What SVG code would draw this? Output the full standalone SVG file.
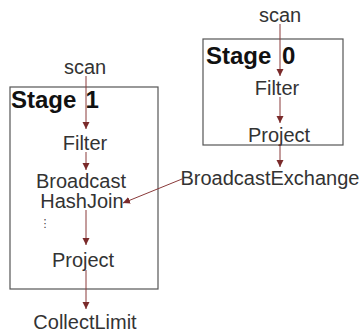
<svg xmlns="http://www.w3.org/2000/svg" width="362" height="332" viewBox="0 0 362 332">
  <style>
    .lbl { font-family: "Liberation Sans", Arial, sans-serif; font-size: 20px; fill: #333; text-anchor: middle; }
    .stage { font-family: "Liberation Sans", Arial, sans-serif; font-size: 24px; font-weight: bold; fill: #111; }
    .box { fill: none; stroke: #555; stroke-width: 1.2; }
    .edge { fill: none; stroke: #8a3a3a; stroke-width: 1; marker-end: url(#head); }
  </style>
  <defs>
    <marker id="head" viewBox="0 0 10 10" refX="10" refY="5" markerWidth="7" markerHeight="12" markerUnits="userSpaceOnUse" orient="auto">
      <path d="M0,0 L10,5 L0,10 Z" fill="#7a2a2a"/>
    </marker>
  </defs>
  <rect width="362" height="332" fill="#fff"/>

  <!-- stage boxes -->
  <g id="stage1">
    <rect class="box" x="10" y="87" width="148" height="202"/>
    <text class="stage" x="11" y="108">Stage<tspan x="85.5">1</tspan></text>
  </g>
  <g id="stage0">
    <rect class="box" x="203" y="39" width="140" height="106"/>
    <text class="stage" x="206" y="64">Stage<tspan x="282">0</tspan></text>
  </g>

  <!-- stage 1 operators -->
  <g id="scan1"><text class="lbl" x="85" y="74">scan</text></g>
  <g id="filter1"><text class="lbl" x="85" y="150">Filter</text></g>
  <g id="bhj"><text class="lbl" x="81" y="188">Broadcast</text><text class="lbl" x="82" y="208">HashJoin</text></g>
  <g id="ellipsis"><text x="45" y="227" style="font-family:'DejaVu Sans',sans-serif;font-size:11px;fill:#444;text-anchor:middle">⋮</text></g>
  <g id="project1"><text class="lbl" x="83" y="267">Project</text></g>
  <g id="collect"><text class="lbl" x="85" y="329">CollectLimit</text></g>

  <!-- stage 0 operators -->
  <g id="scan0"><text class="lbl" x="280" y="22">scan</text></g>
  <g id="filter0"><text class="lbl" x="277" y="95">Filter</text></g>
  <g id="project0"><text class="lbl" x="279" y="142">Project</text></g>
  <g id="bex"><text class="lbl" x="270" y="185">BroadcastExchange</text></g>

  <!-- data flow -->
  <g id="edges">
    <line class="edge" x1="86" y1="76" x2="86" y2="129"/>
    <line class="edge" x1="86" y1="152" x2="86" y2="170"/>
    <line class="edge" x1="86" y1="210" x2="86" y2="245"/>
    <line class="edge" x1="86" y1="270" x2="86" y2="309"/>
    <line class="edge" x1="280" y1="24" x2="280" y2="76"/>
    <line class="edge" x1="280" y1="97" x2="280" y2="123"/>
    <line class="edge" x1="280" y1="144" x2="280" y2="167"/>
    <line class="edge" x1="182" y1="179" x2="123" y2="203"/>
  </g>
</svg>
